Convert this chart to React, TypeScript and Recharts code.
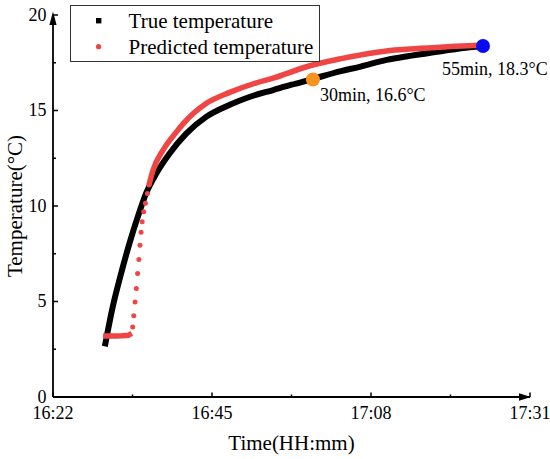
import React from "react";
import {
  ComposedChart,
  Line,
  Scatter,
  XAxis,
  YAxis,
  Legend,
  ReferenceDot,
  Label,
} from "recharts";

// time is in minutes after 16:22
const trueTime = [7.5, 8.64, 9.85, 11.06, 12.26, 13.46, 14.96, 16.89, 19.3, 22.2, 25.57, 28.5, 31.84, 34.5, 37.4, 41.49, 44.5, 48.25, 51.62, 56.4, 60.3, 62.3];
const trueTemp = [2.65, 4.72, 6.47, 8.04, 9.43, 10.66, 11.71, 12.76, 13.8, 14.68, 15.3, 15.72, 16.07, 16.35, 16.63, 17.05, 17.3, 17.65, 17.86, 18.12, 18.31, 18.38];

const predFlatTime = [7.25, 8.2, 9.1, 10.0, 10.9, 11.4];
const predFlatTemp = [3.2, 3.2, 3.2, 3.21, 3.23, 3.33];

const predRiseTime = [11.53, 11.68, 11.87, 12.05, 12.24, 12.42, 12.58, 12.74, 12.9, 13.12, 13.37, 13.66, 13.88];
const predRiseTemp = [3.67, 4.25, 4.98, 5.68, 6.47, 7.2, 7.95, 8.62, 9.17, 9.7, 10.14, 10.66, 11.1];

const predTailTime = [13.88, 14.47, 15.92, 17.86, 18.81, 22.2, 25.57, 29.43, 31.84, 36.67, 41.49, 48.25, 51.62, 56.4, 60.8, 62.3];
const predTailTemp = [11.1, 11.88, 12.93, 13.88, 14.3, 15.38, 15.95, 16.45, 16.69, 17.29, 17.7, 18.12, 18.22, 18.32, 18.4, 18.42];

const markTime = [37.6, 62.2];
const markTemp = [16.62, 18.38];
const markLabels = ["30min, 16.6°C", "55min, 18.3°C"];

const xMajor = [0, 23, 46, 69];
const xMinor = [11.5, 34.5, 57.5];
const yMajor = [0, 5, 10, 15, 20];
const yMinor = [2.5, 7.5, 12.5, 17.5];

const zip = (ts: number[], vs: number[]) => ts.map((t, i) => ({ t, v: vs[i] }));
const trueData = zip(trueTime, trueTemp);
const predFlat = zip(predFlatTime, predFlatTemp);
const predRise = zip(predRiseTime, predRiseTemp);
const predTail = zip(predTailTime, predTailTemp);

const RED = "#F04545";
const FONT = "'Liberation Serif', 'Times New Roman', serif";

const hhmm = (m: number) => {
  const total = 16 * 60 + 22 + m;
  const h = Math.floor(total / 60);
  const mm = Math.round(total % 60);
  return `${h}:${String(mm).padStart(2, "0")}`;
};

const XTick = (props: any) => {
  const { x, y, payload } = props;
  const major = xMajor.includes(payload.value);
  const ay = y - 9;
  return (
    <g>
      <line x1={x} x2={x} y1={ay} y2={ay - (major ? 4.5 : 2.5)} stroke="#000" strokeWidth={1.5} />
      {major && (
        <text x={x} y={ay + 22} textAnchor="middle" fontSize={18} fill="#000" style={{ fontFamily: FONT }}>
          {hhmm(payload.value)}
        </text>
      )}
    </g>
  );
};

const YTick = (props: any) => {
  const { x, y, payload } = props;
  const major = yMajor.includes(payload.value);
  const ax = x + 7;
  return (
    <g>
      <line x1={ax} x2={ax + (major ? 5 : 3)} y1={y} y2={y} stroke="#000" strokeWidth={1.5} />
      {major && (
        <text x={ax - 6.5} y={y + 5.5} textAnchor="end" fontSize={18} fill="#000" style={{ fontFamily: FONT }}>
          {payload.value}
        </text>
      )}
    </g>
  );
};

const LegendBox = (props: any) => {
  const items = (props.payload || [])
    .filter((e: any) => e.type !== "none")
    .sort((a: any, b: any) => (a.type === "square" ? -1 : 0) - (b.type === "square" ? -1 : 0));
  return (
    <svg width={251} height={58} style={{ display: "block" }}>
      <rect x={0.5} y={0.5} width={249} height={56} fill="#fff" stroke="#333" strokeWidth={1} />
      {items.map((e: any, i: number) => {
        const cy = 15.7 + i * 26;
        return (
          <g key={e.value}>
            {e.type === "square" ? (
              <rect x={26} y={cy - 2.7} width={5.4} height={5.4} fill={e.color} />
            ) : (
              <circle cx={28.6} cy={cy} r={2.6} fill={e.color} />
            )}
            <text x={58.6} y={cy + 7} fontSize={21} fill="#000" style={{ fontFamily: FONT }}>
              {e.value}
            </text>
          </g>
        );
      })}
    </svg>
  );
};

export default function App() {
  return (
    <div style={{ position: "absolute", left: 0, top: 0, fontFamily: FONT, background: "#fff" }}>
      <ComposedChart width={550} height={459} margin={{ top: 15, right: 20, bottom: 32, left: 0 }}>
        <XAxis
          dataKey="t"
          type="number"
          domain={[0, 69]}
          ticks={[...xMajor, ...xMinor].sort((a, b) => a - b)}
          interval={0}
          allowDataOverflow
          height={30}
          tickSize={0}
          tickMargin={9}
          tickLine={false}
          axisLine={{ stroke: "#000", strokeWidth: 1.8 }}
          tick={<XTick />}
        >
          <Label
            content={(p: any) => (
              <text
                x={p.viewBox.x + p.viewBox.width / 2}
                y={450}
                textAnchor="middle"
                fontSize={21}
                fill="#000"
                style={{ fontFamily: FONT }}
              >
                Time(HH:mm)
              </text>
            )}
          />
        </XAxis>
        <YAxis
          type="number"
          domain={[0, 20]}
          ticks={[...yMajor, ...yMinor].sort((a, b) => a - b)}
          interval={0}
          width={53}
          tickSize={0}
          tickMargin={7}
          tickLine={false}
          axisLine={{ stroke: "#000", strokeWidth: 1.8 }}
          tick={<YTick />}
        >
          <Label
            content={(p: any) => {
              const cy = p.viewBox.y + p.viewBox.height / 2;
              return (
                <text
                  transform={`translate(22, ${cy}) rotate(-90)`}
                  textAnchor="middle"
                  fontSize={21}
                  fill="#000"
                  style={{ fontFamily: FONT }}
                >
                  Temperature(°C)
                </text>
              );
            }}
          />
        </YAxis>
        <Legend
          layout="vertical"
          align="center"
          verticalAlign="middle"
          wrapperStyle={{ left: 70, top: 5, width: 251, height: 58 }}
          content={<LegendBox />}
        />
        <Line
          data={trueData}
          dataKey="v"
          name="True temperature"
          type="monotone"
          stroke="#000"
          strokeWidth={6}
          dot={false}
          legendType="square"
          isAnimationActive={false}
        />
        <Line
          data={predFlat}
          dataKey="v"
          name="pred-flat"
          type="linear"
          stroke={RED}
          strokeWidth={5.5}
          dot={false}
          legendType="none"
          isAnimationActive={false}
        />
        <Scatter
          data={predRise}
          dataKey="v"
          name="Predicted temperature"
          fill={RED}
          legendType="circle"
          shape={(p: any) => <circle cx={p.cx} cy={p.cy} r={2.5} fill={RED} />}
          isAnimationActive={false}
        />
        <Line
          data={predTail}
          dataKey="v"
          name="pred-tail"
          type="monotone"
          stroke={RED}
          strokeWidth={5.5}
          dot={false}
          legendType="none"
          isAnimationActive={false}
        />
        <ReferenceDot
          x={69}
          y={0}
          ifOverflow="visible"
          shape={(p: any) => (
            <path d={`M${p.cx + 1},${p.cy} L${p.cx - 11},${p.cy - 3.7} L${p.cx - 11},${p.cy + 3.7} Z`} fill="#000" />
          )}
        />
        <ReferenceDot
          x={0}
          y={20}
          ifOverflow="visible"
          shape={(p: any) => (
            <path d={`M${p.cx},${p.cy - 3.5} L${p.cx - 3.6},${p.cy + 10} L${p.cx + 3.6},${p.cy + 10} Z`} fill="#000" />
          )}
        />
        {markTime.map((t, i) => (
          <ReferenceDot
            key={markLabels[i]}
            x={t}
            y={markTemp[i]}
            ifOverflow="visible"
            shape={(p: any) => (
              <g>
                <circle cx={p.cx} cy={p.cy} r={7} fill={i === 0 ? "#F7931E" : "#0A0AF0"} />
                <text
                  x={i === 0 ? p.cx + 7 : p.cx - 41}
                  y={i === 0 ? p.cy + 21 : p.cy + 29}
                  fontSize={18}
                  fill="#000"
                  style={{ fontFamily: FONT }}
                >
                  {markLabels[i]}
                </text>
              </g>
            )}
          />
        ))}
      </ComposedChart>
    </div>
  );
}
